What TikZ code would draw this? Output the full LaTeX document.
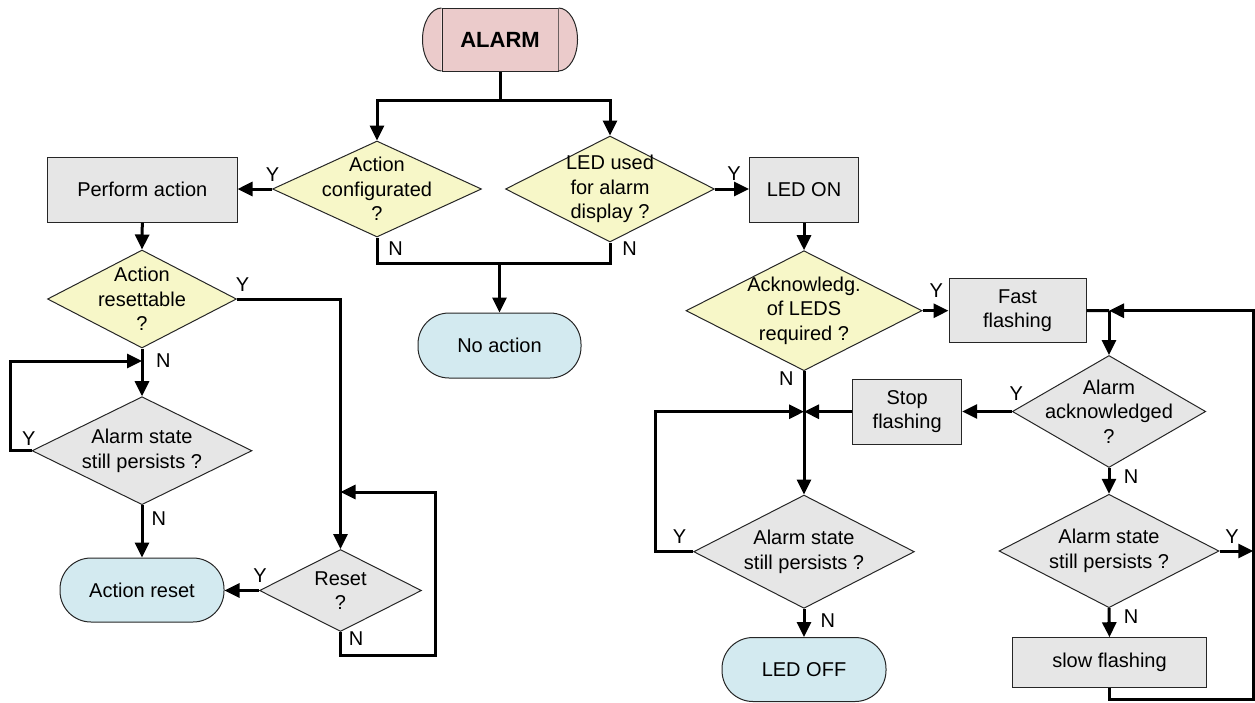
\documentclass[tikz,border=0pt]{standalone}
\usepackage{fontspec}
\setmainfont{Liberation Sans}
\usetikzlibrary{shapes.geometric,arrows.meta}
\definecolor{ycol}{RGB}{247,247,200}
\definecolor{gcol}{RGB}{230,230,230}
\definecolor{bcol}{RGB}{211,234,240}
\definecolor{pcol}{RGB}{235,203,203}
\begin{document}
\begin{tikzpicture}[x=1pt,y=-1pt,
 txt/.style={font=\fontsize{20}{24.5}\selectfont, align=center, text=black},
 sz/.style 2 args={minimum width=#1pt, minimum height=#2pt},
 box/.style={txt, draw=black!85, line width=1pt, fill=gcol, inner sep=0pt},
 term/.style={box, fill=bcol, rounded corners=31pt},
 dia/.style={diamond, draw=black!85, line width=1pt, inner sep=0pt},
 yn/.style={txt, inner sep=0pt},
 conn/.style={line width=3pt},
 arr/.style={conn, -{Triangle[length=15pt,width=14pt]}},
]
\useasboundingbox (0,0) rectangle (1255,702);

% nodes
\node[box, sz={116}{63}, fill=pcol, font=\fontsize{22}{26}\selectfont\bfseries] (alarm) at (500,40) {ALARM};
\filldraw[fill=pcol, draw=black!85, line width=1pt] (alarm.north east) arc[start angle=90, end angle=-90, x radius=19pt, y radius=31.5pt];
\filldraw[fill=pcol, draw=black!85, line width=1pt] (alarm.north west) arc[start angle=90, end angle=270, x radius=19pt, y radius=31.5pt];

\node[dia, sz={209}{96}, fill=ycol, label={[txt]center:Action\\configurated\\?}] (d1) at (377,189) {};
\node[dia, sz={209}{106}, fill=ycol, label={[txt]center:LED used\\for alarm\\display ?}] (d2) at (610,189) {};
\node[box, sz={189.5}{64.7}] (perform) at (142.3,189.7) {Perform action};
\node[box, sz={109}{65}] (ledon) at (804,190) {LED ON};
\node[term, sz={163}{65}] (noact) at (499.5,345.5) {No action};
\node[dia, sz={189}{98}, fill=ycol, label={[txt]center:Action\\resettable\\?}] (d3) at (142,299) {};
\node[dia, sz={220}{108}, fill=gcol, label={[txt]center:Alarm state\\still persists ?}] (d4) at (142,450.7) {};
\node[term, sz={164}{64}] (actreset) at (142,590) {Action reset};
\node[dia, sz={162}{82}, fill=gcol, label={[txt]center:Reset\\?}] (reset) at (340.5,590.5) {};

\node[dia, sz={236}{120}, fill=ycol, label={[txt]center:Acknowledg.\\of LEDS\\required ?}] (d5) at (804,310.7) {};
\node[box, sz={137}{64}] (fast) at (1017.5,310.5) {Fast\\flashing};
\node[box, sz={109}{64.7}] (stop) at (907.2,411.7) {Stop\\flashing};
\node[dia, sz={193.4}{112}, fill=gcol, label={[txt]center:Alarm\\acknowledged\\?}] (d6) at (1109,411.5) {};
\node[dia, sz={220.7}{113.3}, fill=gcol, label={[txt]center:Alarm state\\still persists ?}] (d7) at (804,551.7) {};
\node[dia, sz={220}{113.4}, fill=gcol, label={[txt]center:Alarm state\\still persists ?}] (d8) at (1109,551) {};
\node[term, sz={164}{64}] (ledoff) at (804,669.5) {LED OFF};
\node[box, sz={194.4}{49.6}] (slow) at (1109.5,662.5) {slow flashing};

% junction coordinates
\coordinate (s1) at (500,100);
\coordinate (nj) at (499.5,263);
\coordinate (lj) at (142,361);
\coordinate (rj) at (340.5,492);
\coordinate (rc) at (435,655.7);
\coordinate (j2) at (804,411.7);
\coordinate (fj) at (1109,310.7);
\coordinate (rl) at (1253.3,551);
\coordinate (rb) at (1253.3,699.3);

% connectors
\draw[conn] (alarm.south) -- (s1);
\draw[arr] (s1) -| (d1.north);
\draw[arr] (s1) -| (d2.north);
\draw[arr] (d1.west) -- (d1.west -| perform.east);
\draw[arr] (d2.east) -- (d2.east -| ledon.west);
\draw[conn] (d1.south) |- (nj) -| (d2.south);
\draw[arr] (nj) -- (noact.north);
\draw[arr] (perform.south) -- (d3.north);
\draw[arr] (d3.east) -| (reset.north);
\draw[arr] (d3.south) -- (d4.north);
\draw[arr] (d4.west) -- ++(-21,0) |- (lj);
\draw[arr] (d4.south) -- (actreset.north);
\draw[arr] (reset.west) -- (reset.west -| actreset.east);
\draw[arr] (reset.south) |- (rc) |- (rj);

\draw[arr] (ledon.south) -- (d5.north);
\draw[arr] (d5.east) -- (d5.east -| fast.west);
\draw[arr] (d5.south) -- (d7.north);
\draw[conn] (fast.east) -- (fj);
\draw[arr] (fj) -- (d6.north);
\draw[arr] (d6.west) -- (d6.west -| stop.east);
\draw[arr] (stop.west) -- (j2);
\draw[arr] (d7.west) -- ++(-37.6,0) |- (j2);
\draw[arr] (d7.south) -- (ledoff.north);
\draw[arr] (d6.south) -- (d8.north);
\draw[arr] (d8.east) -- (rl);
\draw[arr] (d8.south) -- (slow.north);
\draw[arr] (slow.south) |- (rb) |- (fj);

% Y / N labels
\node[yn] (y1) at (272.5,175) {Y};
\node[yn] (n1) at (395.5,249) {N};
\node[yn] (n2) at (629.5,249) {N};
\node[yn] (y2) at (734,173.5) {Y};
\node[yn] (y3) at (242.5,284.5) {Y};
\node[yn] (n3) at (163.3,361) {N};
\node[yn] (y4) at (28.8,438.3) {Y};
\node[yn] (n4) at (158.8,518.8) {N};
\node[yn] (y5) at (260,575.5) {Y};
\node[yn] (n5) at (356,638.7) {N};
\node[yn] (y6) at (936.3,290.3) {Y};
\node[yn] (n6) at (786.3,378.3) {N};
\node[yn] (y7) at (1016.3,393.8) {Y};
\node[yn] (n7) at (1131,477) {N};
\node[yn] (y8) at (1232,536.3) {Y};
\node[yn] (n8) at (1131,617) {N};
\node[yn] (y9) at (679.5,537) {Y};
\node[yn] (n9) at (827.8,620.3) {N};
\end{tikzpicture}
\end{document}
